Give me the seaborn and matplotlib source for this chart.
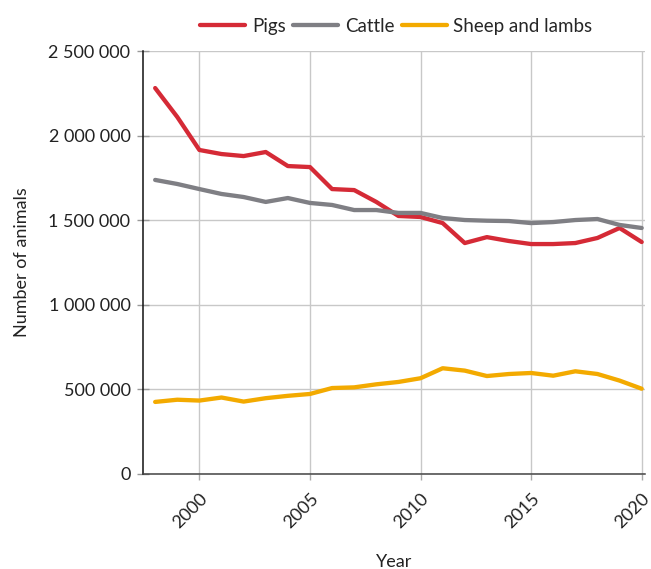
import pandas as pd
import matplotlib.pyplot as plt
import matplotlib.ticker as mticker
import seaborn as sns

# Values
years = list(range(1998, 2021))
pigs = [2281000, 2110000, 1915000, 1891000, 1879000, 1903000, 1820000, 1814000,
        1684000, 1678000, 1608000, 1525000, 1519000, 1483000, 1365000, 1400000,
        1377000, 1359000, 1359000, 1365000, 1395000, 1454000, 1371000]
cattle = [1738000, 1714000, 1684000, 1655000, 1637000, 1608000, 1631000, 1602000,
          1590000, 1560000, 1560000, 1543000, 1543000, 1513000, 1501000, 1497000,
          1495000, 1483000, 1489000, 1501000, 1507000, 1472000, 1454000]
sheep = [426000, 439000, 434000, 452000, 428000, 448000, 462000, 473000,
         508000, 512000, 530000, 544000, 566000, 625000, 611000, 579000,
         591000, 597000, 581000, 607000, 591000, 552000, 504000]

series_names = ['Pigs', 'Cattle', 'Sheep and lambs']
colors = ['#d52a36', '#7f7f84', '#f3aa00']

data = pd.DataFrame({
    'Year': years * 3,
    'Number of animals': pigs + cattle + sheep,
    'Type': [n for n in series_names for _ in years],
})

sns.set_style('whitegrid')
plt.rcParams['font.family'] = ['Lato', 'DejaVu Sans']

fig = plt.figure(figsize=(6.51, 5.69), dpi=100)
ax = fig.add_axes([143 / 651, 1 - 474 / 569, (645 - 143) / 651, (474 - 51) / 569])

sns.lineplot(data=data, x='Year', y='Number of animals', hue='Type',
             palette=colors, linewidth=3.1, ax=ax)

ax.set_xlim(1997.45, 2020.15)
ax.set_ylim(0, 2500000)
ax.set_xticks([2000, 2005, 2010, 2015, 2020])
ax.set_yticks([0, 500000, 1000000, 1500000, 2000000, 2500000])
ax.yaxis.set_major_formatter(mticker.FuncFormatter(lambda v, p: f'{int(v):,}'.replace(',', ' ')))
ax.tick_params(axis='x', labelsize=13, labelcolor='#222222', color='#aaaaaa',
               bottom=True, length=4, width=1, direction='out', pad=8)
ax.tick_params(axis='y', labelsize=13, labelcolor='#222222', color='#999999',
               left=True, length=8, width=1, direction='inout', pad=5)
for lbl in ax.get_xticklabels():
    lbl.set_rotation(45)
    lbl.set_ha('right')
    lbl.set_rotation_mode('anchor')
ax.grid(True, color='#c8c8c8', linewidth=1)

for side in ['top', 'right']:
    ax.spines[side].set_visible(False)
ax.spines['left'].set_color('#111111')
ax.spines['left'].set_linewidth(1.1)
ax.spines['bottom'].set_color('#444444')
ax.spines['bottom'].set_linewidth(1.1)

ax.set_xlabel('Year', fontsize=13, color='#222222', labelpad=16)
ax.set_ylabel('Number of animals', fontsize=13, color='#222222', labelpad=13)

ax.legend(title=None, loc='lower center', bbox_to_anchor=(0.505, 1.02), ncol=3,
          frameon=False, fontsize=13.5, handlelength=2.4, columnspacing=0.4,
          handletextpad=0.35, borderaxespad=0)

fig.savefig('out.png', dpi=100)
